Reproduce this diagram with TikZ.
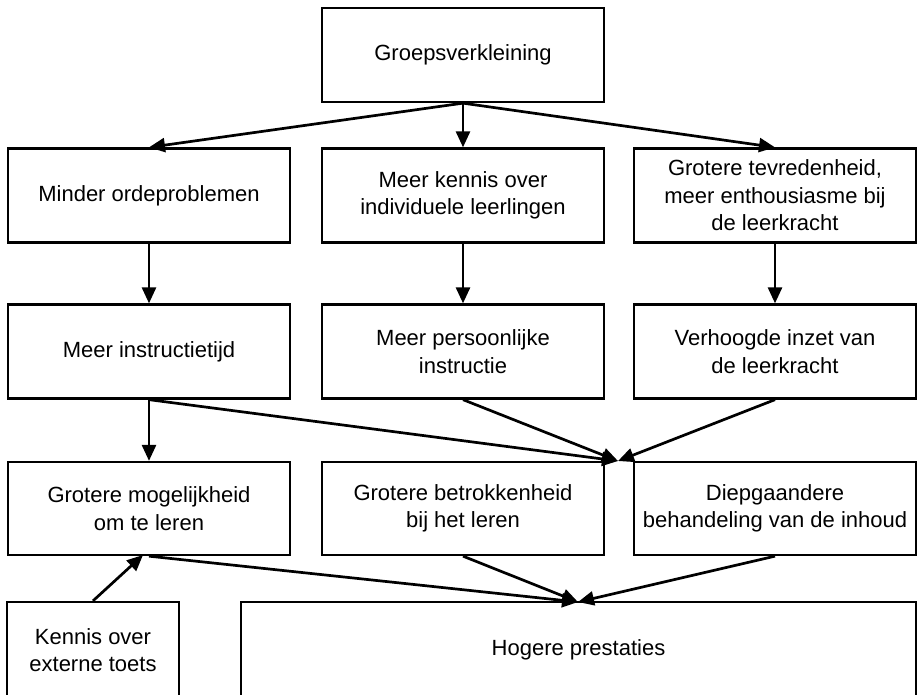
\documentclass[tikz,border=0pt]{standalone}
\usepackage{fontspec}
\setmainfont{Liberation Sans}
\usetikzlibrary{arrows.meta}
\begin{document}
\begin{tikzpicture}[x=1pt,y=-1pt,
  box/.style={draw=black, line width=2.3pt, rectangle, align=center,
    minimum width=282pt, minimum height=94pt, inner sep=0pt,
    font=\fontsize{22}{27.5}\selectfont},
  link/.style={line width=2.7pt, -{Triangle[length=16pt,width=14pt]}}]
\useasboundingbox (0,0) rectangle (920,694);
\clip (0,0) rectangle (920,694);
\fill[white] (0,0) rectangle (920,694);

% top cause
\node[box] (top) at (463,55) {Groepsverkleining};

% first-order effects
\node[box] (aL) at (149,195.5) {Minder ordeproblemen};
\node[box] (aM) at (463,195.5) {Meer kennis over\\individuele leerlingen};
\node[box] (aR) at (775,195.5) {Grotere tevredenheid,\\meer enthousiasme bij\\de leerkracht};

% second-order effects
\node[box] (bL) at (149,351.5) {Meer instructietijd};
\node[box] (bM) at (463,351.5) {Meer persoonlijke\\instructie};
\node[box] (bR) at (775,351.5) {Verhoogde inzet van\\de leerkracht};

% third-order effects
\node[box, minimum height=93pt] (cL) at (149,508.5) {Grotere mogelijkheid\\om te leren};
\node[box, minimum height=93pt] (cM) at (463,508.5) {Grotere betrokkenheid\\bij het leren};
\node[box, minimum height=93pt] (cR) at (775,508.5) {Diepgaandere\\behandeling van de inhoud};

% bottom row (runs past the lower edge)
\node[box, minimum width=172pt, minimum height=96pt] (test) at (93,650) {Kennis over\\externe toets};
\node[box, minimum width=675pt, minimum height=96pt] (out) at (578.5,650) {Hogere prestaties};

% meeting points of converging arrows
\coordinate (m1) at (618,461);
\coordinate (m2) at (578,602);
\coordinate (cLin) at (143,555);

\draw[link] (top.south) -- (aL.north);
\draw[link] (top.south) -- (aM.north);
\draw[link] (top.south) -- (aR.north);

\draw[link] (aL.south) -- (bL.north);
\draw[link] (aM.south) -- (bM.north);
\draw[link] (aR.south) -- (bR.north);

\draw[link] (bL.south) -- (cL.north);
\draw[link] (bL.south) -- (m1);
\draw[link] (bM.south) -- (m1);
\draw[link] (bR.south) -- (m1);

\draw[link] (cL.south) -- (m2);
\draw[link] (cM.south) -- (m2);
\draw[link] (cR.south) -- (m2);

\draw[link] (test.north) -- (cLin);
\end{tikzpicture}
\end{document}
